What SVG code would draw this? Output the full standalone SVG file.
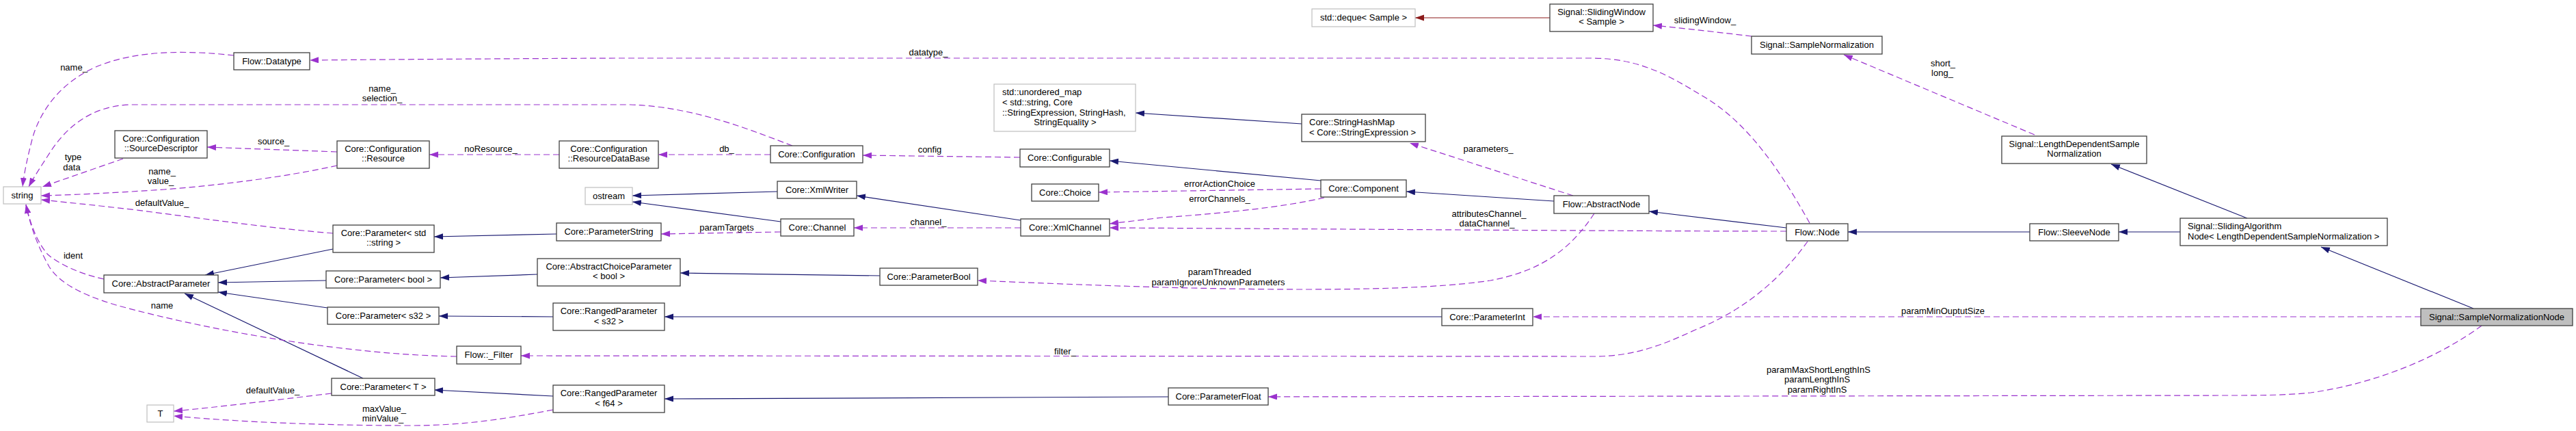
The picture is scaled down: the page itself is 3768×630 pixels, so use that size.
<svg xmlns="http://www.w3.org/2000/svg" width="3768" height="630" viewBox="0 0 3768 630">
<style>
text{font-family:"Liberation Sans",Arial,sans-serif;font-size:13px;fill:#000}
.n rect{fill:#fff;stroke:#404040;stroke-width:1.3}
.x rect{fill:#fff;stroke:#bfbfbf;stroke-width:1.2}
.f rect{fill:#bfbfbf;stroke:#404040;stroke-width:1.3}
.c{text-anchor:middle}
.inh{fill:none;stroke:#191970;stroke-width:1.2;marker-end:url(#an)}
.prv{fill:none;stroke:#8b1a1a;stroke-width:1.2;marker-end:url(#ar)}
.use{fill:none;stroke:#9a32cd;stroke-width:1.2;stroke-dasharray:9,5;marker-end:url(#ap)}
.lbl{text-anchor:middle}
</style>
<defs>
<marker id="an" markerUnits="userSpaceOnUse" markerWidth="14" markerHeight="10" refX="13" refY="4.5" orient="auto"><path d="M0,0 L13,4.5 L0,9 z" fill="#191970"/></marker>
<marker id="ap" markerUnits="userSpaceOnUse" markerWidth="14" markerHeight="10" refX="13" refY="4.5" orient="auto"><path d="M0,0 L13,4.5 L0,9 z" fill="#9a32cd"/></marker>
<marker id="ar" markerUnits="userSpaceOnUse" markerWidth="14" markerHeight="10" refX="13" refY="4.5" orient="auto"><path d="M0,0 L13,4.5 L0,9 z" fill="#8b1a1a"/></marker>
</defs>
<rect width="3768" height="630" fill="#fff"/>
<g id="connectors">
<path class="inh" d="M487,364 L300,402"/>
<path class="inh" d="M477,410 L319,413"/>
<path class="inh" d="M479,450 L319,427"/>
<path class="inh" d="M531,553 L270,429"/>
<path class="inh" d="M814,342 L635,346"/>
<path class="inh" d="M786,401 L644,406"/>
<path class="inh" d="M809,463 L642,462"/>
<path class="inh" d="M809,579 L635,570"/>
<path class="inh" d="M1137,280 L925,286"/>
<path class="inh" d="M1142,324 L925,295"/>
<path class="inh" d="M1287,403 L995,399"/>
<path class="inh" d="M2109,463 L972,463"/>
<path class="inh" d="M1709,580 L972,583"/>
<path class="inh" d="M1493,322 L1253,286"/>
<path class="inh" d="M1932,264 L1623,235"/>
<path class="inh" d="M1904,181 L1661,165"/>
<path class="inh" d="M2273,294 L2057,280"/>
<path class="inh" d="M2613,333 L2412,309"/>
<path class="inh" d="M2969,339 L2703,339"/>
<path class="inh" d="M3189,339 L3099,339"/>
<path class="inh" d="M3287,319 L3088,240"/>
<path class="inh" d="M3618,451 L3395,361"/>
<path class="prv" d="M2267,26 L2070,26"/>
<path class="use" d="M342,81 C280,74 200,72 140,98 C90,120 60,160 48,200 C40,230 35,255 33,273"/>
<path class="use" d="M1159,213 C1110,195 1020,156 922,153 L190,153 C130,155 95,190 75,220 C62,240 50,258 42,273"/>
<path class="use" d="M180,232 L62,273"/>
<path class="use" d="M493,222 L303,215"/>
<path class="use" d="M493,242 C420,258 330,270 240,277 C150,283 100,285 60,286"/>
<path class="use" d="M487,341 C400,334 300,320 200,307 C130,299 90,295 60,292"/>
<path class="use" d="M152,408 C115,400 85,385 70,372 C55,355 45,330 38,299"/>
<path class="use" d="M668,521 C520,519 320,487 170,446 C110,428 85,410 72,390 C58,365 45,335 38,299"/>
<path class="use" d="M485,575 C400,585 320,595 254,601"/>
<path class="use" d="M809,599 C740,612 680,622 600,622 C450,622 330,615 254,608"/>
<path class="use" d="M818,226 L628,226"/>
<path class="use" d="M1127,226 L963,226"/>
<path class="use" d="M1492,230 L1262,227"/>
<path class="use" d="M1142,339 L967,342"/>
<path class="use" d="M1493,333 L1249,333"/>
<path class="use" d="M1932,276 L1607,281"/>
<path class="use" d="M1937,289 C1880,302 1800,311 1700,318 L1623,327"/>
<path class="use" d="M2613,338 C2400,338 2000,335 1623,333"/>
<path class="use" d="M2332,312 C2300,360 2260,395 2180,410 C2080,425 1900,425 1700,420 C1600,417 1500,413 1430,410"/>
<path class="use" d="M2301,286 L2062,209"/>
<path class="use" d="M2647,326 C2610,260 2560,180 2490,140 C2440,110 2400,86 2330,85 L900,85 C700,86 550,87 453,88"/>
<path class="use" d="M2644,353 C2610,400 2560,450 2480,482 C2430,505 2390,521 2330,521 L762,520"/>
<path class="use" d="M3541,463 L2242,463"/>
<path class="use" d="M3630,476 C3570,520 3480,560 3380,574 C3340,578 3300,578 3260,578 L1855,580"/>
<path class="use" d="M2562,53 C2520,48 2470,42 2418,37"/>
<path class="use" d="M2976,197 L2697,80"/>
<text class="lbl" x="108" y="103">name_</text>
<text class="lbl" x="559" y="134">name_</text>
<text class="lbl" x="559" y="148">selection_</text>
<text class="lbl" x="107" y="234">type</text>
<text class="lbl" x="105" y="249">data</text>
<text class="lbl" x="400" y="211">source_</text>
<text class="lbl" x="237" y="255">name_</text>
<text class="lbl" x="235" y="269">value_</text>
<text class="lbl" x="237" y="301">defaultValue_</text>
<text class="lbl" x="107" y="378">ident</text>
<text class="lbl" x="237" y="451">name</text>
<text class="lbl" x="399" y="575">defaultValue_</text>
<text class="lbl" x="562" y="602">maxValue_</text>
<text class="lbl" x="560" y="616">minValue_</text>
<text class="lbl" x="718" y="222">noResource_</text>
<text class="lbl" x="1063" y="222">db_</text>
<text class="lbl" x="1063" y="337">paramTargets</text>
<text class="lbl" x="1358" y="81">datatype_</text>
<text class="lbl" x="1360" y="223">config</text>
<text class="lbl" x="1358" y="329">channel_</text>
<text class="lbl" x="1784" y="273">errorActionChoice</text>
<text class="lbl" x="1784" y="295">errorChannels_</text>
<text class="lbl" x="1784" y="402">paramThreaded</text>
<text class="lbl" x="1782" y="417">paramIgnoreUnknownParameters</text>
<text class="lbl" x="1558" y="518">filter_</text>
<text class="lbl" x="2494" y="34">slidingWindow_</text>
<text class="lbl" x="2177" y="222">parameters_</text>
<text class="lbl" x="2178" y="317">attributesChannel_</text>
<text class="lbl" x="2175" y="331">dataChannel_</text>
<text class="lbl" x="2842" y="97">short_</text>
<text class="lbl" x="2841" y="111">long_</text>
<text class="lbl" x="2842" y="459">paramMinOuptutSize</text>
<text class="lbl" x="2660" y="545">paramMaxShortLengthInS</text>
<text class="lbl" x="2658" y="559">paramLengthInS</text>
<text class="lbl" x="2658" y="574">paramRightInS</text>
</g>
<g id="n_datatype" class="n"><rect x="342" y="77" width="111" height="25"/><text class="c" x="397.5" y="94">Flow::Datatype</text></g>
<g id="n_sourcedescriptor" class="n"><rect x="168" y="191" width="135" height="40"/><text class="c" x="235.5" y="207">Core::Configuration</text><text class="c" x="235.5" y="221">::SourceDescriptor</text></g>
<g id="n_resource" class="n"><rect x="493" y="206" width="135" height="40"/><text class="c" x="560.5" y="222">Core::Configuration</text><text class="c" x="560.5" y="236">::Resource</text></g>
<g id="n_string" class="x"><rect x="5" y="273" width="55" height="25"/><text class="c" x="32.5" y="290">string</text></g>
<g id="n_param_string" class="n"><rect x="487" y="329" width="148" height="40"/><text class="c" x="561" y="345">Core::Parameter&lt; std</text><text class="c" x="561" y="359">::string &gt;</text></g>
<g id="n_abstractparameter" class="n"><rect x="152" y="402" width="167" height="26"/><text class="c" x="235.5" y="419">Core::AbstractParameter</text></g>
<g id="n_param_bool" class="n"><rect x="477" y="396" width="167" height="25"/><text class="c" x="560.5" y="413">Core::Parameter&lt; bool &gt;</text></g>
<g id="n_param_s32" class="n"><rect x="479" y="449" width="163" height="25"/><text class="c" x="560.5" y="466">Core::Parameter&lt; s32 &gt;</text></g>
<g id="n_param_t" class="n"><rect x="485" y="553" width="151" height="25"/><text class="c" x="560.5" y="570">Core::Parameter&lt; T &gt;</text></g>
<g id="n_t" class="x"><rect x="215" y="592" width="39" height="25"/><text class="c" x="234.5" y="609">T</text></g>
<g id="n_resourcedatabase" class="n"><rect x="818" y="206" width="145" height="40"/><text class="c" x="890.5" y="222">Core::Configuration</text><text class="c" x="890.5" y="236">::ResourceDataBase</text></g>
<g id="n_configuration" class="n"><rect x="1127" y="213" width="135" height="25"/><text class="c" x="1194.5" y="230">Core::Configuration</text></g>
<g id="n_ostream" class="x"><rect x="856" y="274" width="69" height="25"/><text class="c" x="890.5" y="291">ostream</text></g>
<g id="n_xmlwriter" class="n"><rect x="1137" y="265" width="116" height="25"/><text class="c" x="1195" y="282">Core::XmlWriter</text></g>
<g id="n_channel" class="n"><rect x="1142" y="320" width="107" height="25"/><text class="c" x="1195.5" y="337">Core::Channel</text></g>
<g id="n_parameterstring" class="n"><rect x="814" y="326" width="153" height="26"/><text class="c" x="890.5" y="343">Core::ParameterString</text></g>
<g id="n_abstractchoice" class="n"><rect x="786" y="378" width="209" height="40"/><text class="c" x="890.5" y="394">Core::AbstractChoiceParameter</text><text class="c" x="890.5" y="408">&lt; bool &gt;</text></g>
<g id="n_ranged_s32" class="n"><rect x="809" y="443" width="163" height="40"/><text class="c" x="890.5" y="459">Core::RangedParameter</text><text class="c" x="890.5" y="474">&lt; s32 &gt;</text></g>
<g id="n_filter" class="n"><rect x="668" y="506" width="94" height="26"/><text class="c" x="715" y="523">Flow::_Filter</text></g>
<g id="n_ranged_f64" class="n"><rect x="809" y="563" width="163" height="40"/><text class="c" x="890.5" y="579">Core::RangedParameter</text><text class="c" x="890.5" y="594">&lt; f64 &gt;</text></g>
<g id="n_unordered_map" class="x"><rect x="1454" y="123" width="207" height="69"/><text x="1466" y="139">std::unordered_map</text><text x="1466" y="154">&lt; std::string, Core</text><text x="1466" y="169">::StringExpression, StringHash,</text><text class="c" x="1558" y="183">StringEquality &gt;</text></g>
<g id="n_configurable" class="n"><rect x="1492" y="218" width="131" height="26"/><text class="c" x="1557.5" y="235">Core::Configurable</text></g>
<g id="n_choice" class="n"><rect x="1509" y="269" width="98" height="25"/><text class="c" x="1558" y="286">Core::Choice</text></g>
<g id="n_xmlchannel" class="n"><rect x="1493" y="320" width="130" height="25"/><text class="c" x="1558" y="337">Core::XmlChannel</text></g>
<g id="n_parameterbool" class="n"><rect x="1287" y="392" width="143" height="25"/><text class="c" x="1358.5" y="409">Core::ParameterBool</text></g>
<g id="n_parameterfloat" class="n"><rect x="1709" y="567" width="146" height="25"/><text class="c" x="1782" y="584">Core::ParameterFloat</text></g>
<g id="n_deque" class="x"><rect x="1919" y="13" width="151" height="26"/><text class="c" x="1994.5" y="30">std::deque&lt; Sample &gt;</text></g>
<g id="n_slidingwindow" class="n"><rect x="2267" y="6" width="151" height="40"/><text class="c" x="2342.5" y="22">Signal::SlidingWindow</text><text class="c" x="2342.5" y="36">&lt; Sample &gt;</text></g>
<g id="n_stringhashmap" class="n"><rect x="1904" y="167" width="181" height="40"/><text x="1915" y="183">Core::StringHashMap</text><text x="1915" y="198">&lt; Core::StringExpression &gt;</text></g>
<g id="n_component" class="n"><rect x="1932" y="263" width="125" height="25"/><text class="c" x="1994.5" y="280">Core::Component</text></g>
<g id="n_abstractnode" class="n"><rect x="2273" y="286" width="139" height="26"/><text class="c" x="2342.5" y="303">Flow::AbstractNode</text></g>
<g id="n_parameterint" class="n"><rect x="2109" y="451" width="133" height="25"/><text class="c" x="2175.5" y="468">Core::ParameterInt</text></g>
<g id="n_samplenormalization" class="n"><rect x="2562" y="53" width="191" height="26"/><text class="c" x="2657.5" y="70">Signal::SampleNormalization</text></g>
<g id="n_lengthdependent" class="n"><rect x="2928" y="199" width="212" height="40"/><text class="c" x="3034" y="215">Signal::LengthDependentSample</text><text class="c" x="3034" y="229">Normalization</text></g>
<g id="n_node" class="n"><rect x="2613" y="327" width="90" height="25"/><text class="c" x="2658" y="344">Flow::Node</text></g>
<g id="n_sleevenode" class="n"><rect x="2969" y="327" width="130" height="25"/><text class="c" x="3034" y="344">Flow::SleeveNode</text></g>
<g id="n_slidingalgorithmnode" class="n"><rect x="3189" y="319" width="303" height="40"/><text x="3200" y="335">Signal::SlidingAlgorithm</text><text x="3200" y="350">Node&lt; LengthDependentSampleNormalization &gt;</text></g>
<g id="n_samplenormalizationnode" class="f"><rect x="3541" y="451" width="222" height="25"/><text class="c" x="3652" y="468">Signal::SampleNormalizationNode</text></g>
</svg>
